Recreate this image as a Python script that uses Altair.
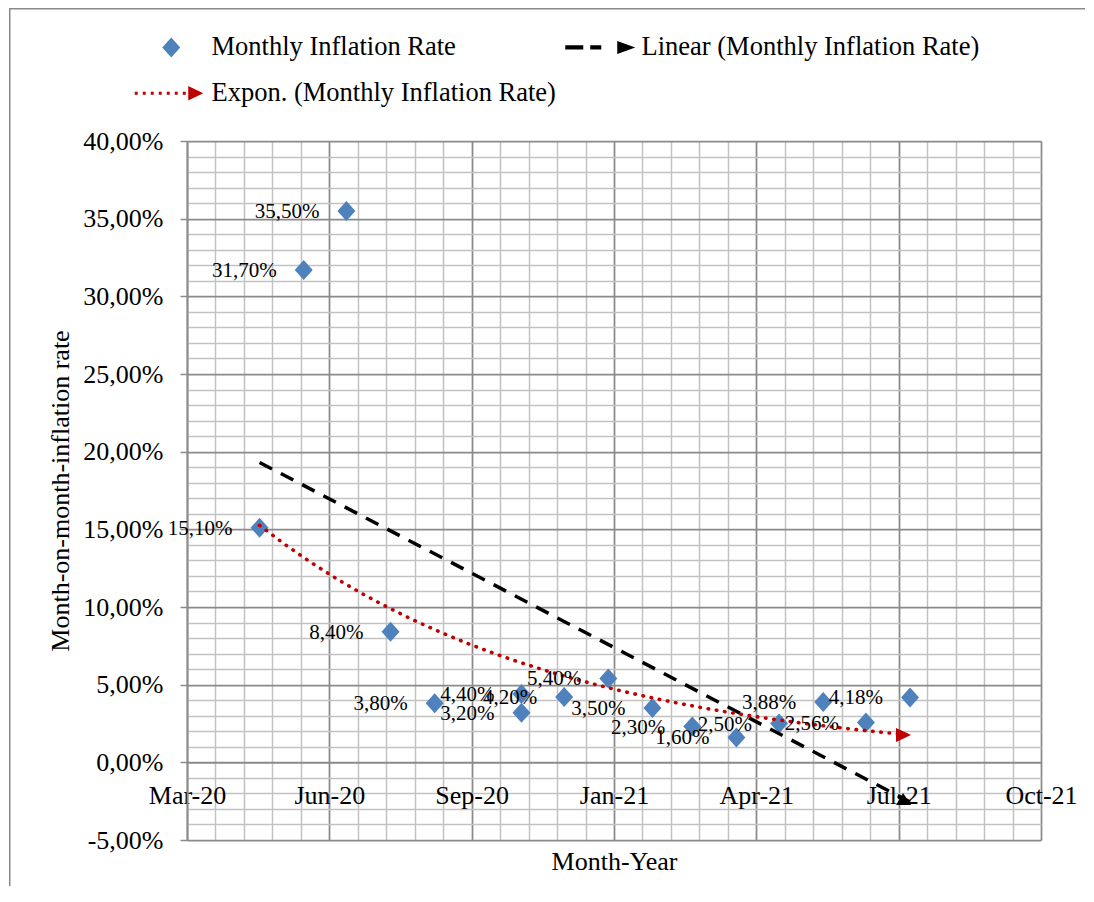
import altair as alt
import pandas as pd

# ---------------- data ----------------
months = ["Apr-20", "May-20", "Jun-20", "Jul-20", "Aug-20", "Sep-20", "Oct-20", "Nov-20",
          "Dec-20", "Jan-21", "Feb-21", "Mar-21", "Apr-21", "May-21", "Jun-21", "Jul-21"]
# x positions as plotted (the Sep-20 value sits on the Oct-20 date in the original)
dates = ["2020-04-30", "2020-05-31", "2020-06-30", "2020-07-31", "2020-08-31", "2020-10-31",
         "2020-10-31", "2020-11-30", "2020-12-31", "2021-01-31", "2021-02-28", "2021-03-31",
         "2021-04-30", "2021-05-31", "2021-06-30", "2021-07-31"]
rates = [15.10, 31.70, 35.50, 8.40, 3.80, 4.40, 3.20, 4.20, 5.40, 3.50, 2.30, 1.60,
         2.50, 3.88, 2.56, 4.18]
# legend order (legend fills column by column)
series_names = ["Monthly Inflation Rate", "Expon. (Monthly Inflation Rate)",
                "Linear (Monthly Inflation Rate)"]
x_start, x_end = "2020-03-10", "2021-10-31"
x_minor_days, x_major_days = 20, 100
y_min, y_max = -0.05, 0.40

# ---------------- style ----------------
FONT = "Liberation Serif"
BLUE, BLACK, RED = "#4f81bd", "#000000", "#c00000"
MAJOR, MINOR = "#8a8a8a", "#c2c2c2"
W, H = 854, 699
DAY = 86400000


def ms(s):
    return int(pd.Timestamp(s).value // 10**6)


x0, x1 = ms(x_start), ms(x_end)
x_vals = list(range(x0, x1 + 1, x_minor_days * DAY))
y_vals = [round(y_min + 0.01 * i, 2) for i in range(int(round((y_max - y_min) / 0.01)) + 1)]

df = pd.DataFrame({"month": months, "date": dates, "rate": rates})
df["t"] = [ms(d) for d in dates]
df["series"] = series_names[0]

x_major_test = f"abs(((datum.value - {x0}) / {DAY}) % {x_major_days}) < 0.5"
y_major_test = "abs(round(datum.value * 100) % 5) == 0"

x_axis = alt.Axis(
    values=x_vals, orient="bottom", offset=-H * (0 - y_min) / (y_max - y_min),
    labelExpr=f"({x_major_test}) ? utcFormat(datum.value, '%b-%y') : ''",
    labelFont=FONT, labelFontSize=26, labelColor="black", labelPadding=20,
    labelOverlap=False, labelFlush=False, labelBound=False,
    ticks=False, tickSize=0, domainColor=MAJOR, domainWidth=1.5,
    grid=True,
    gridColor={"condition": {"test": x_major_test, "value": MAJOR}, "value": MINOR},
    gridWidth={"condition": {"test": x_major_test, "value": 1.75}, "value": 1.5},
    title="Month-Year", titleFont=FONT, titleFontSize=26, titleFontWeight="normal",
    titleColor="black", titleY=107.5, titleBaseline="alphabetic",
)
y_axis = alt.Axis(
    values=y_vals, orient="left",
    labelExpr=(f"({y_major_test}) ? replace(replace(format(datum.value, '.2%'), '.', ','),"
               " '\u2212', '-') : ''"),
    labelFont=FONT, labelFontSize=26, labelColor="black", labelPadding=17,
    labelOverlap=False, labelFlush=False, labelBound=False,
    tickSize=7, tickColor=MAJOR, tickWidth=1.5,
    tickOpacity={"condition": {"test": y_major_test, "value": 1}, "value": 0},
    domainColor=MAJOR, domainWidth=1.75,
    grid=True,
    gridColor={"condition": {"test": y_major_test, "value": MAJOR}, "value": MINOR},
    gridWidth={"condition": {"test": y_major_test, "value": 1.75}, "value": 1.5},
    title="Month-on-month-inflation rate", titleFont=FONT, titleFontSize=26,
    titleFontWeight="normal", titleColor="black", titleAngle=270, titleX=-114,
    titleBaseline="bottom",
)

x_enc = alt.X("t:Q", scale=alt.Scale(domain=[x0, x1], nice=False, zero=False), axis=x_axis)
y_enc = alt.Y("y:Q", scale=alt.Scale(domain=[y_min, y_max], nice=False, zero=False), axis=y_axis)

# legend symbols (unit = 10 px, symbol slot centred at the diamond)
diamond = "M0,-1L0.9,0L0,1L-0.9,0Z"
lin_sym = ("M-3.6,-0.22L-1.8,-0.22L-1.8,0.22L-3.6,0.22Z "
           "M-1.1,-0.22L0.0,-0.22L0.0,0.22L-1.1,0.22Z "
           "M1.6,-0.65L3.4,0L1.6,0.65Z")
dots = " ".join(
    f"M{c - 0.15:.2f},-0.15L{c + 0.15:.2f},-0.15L{c + 0.15:.2f},0.15L{c - 0.15:.2f},0.15Z"
    for c in [-3.5 + 0.8 * i for i in range(7)])
exp_sym = dots + " M1.7,-0.72L3.2,0L1.7,0.72Z"

legend = alt.Legend(
    title=None, orient="none", legendX=-29, legendY=-107, columns=2, padding=0,
    symbolSize=400, symbolStrokeWidth=0, symbolOpacity=1,
    labelFont=FONT, labelFontSize=26.5, labelColor="black", labelOffset=27,
    labelLimit=800, rowPadding=19, columnPadding=9,
)

base = alt.Chart(df).transform_calculate(y="datum.rate / 100")

points = base.mark_point(filled=True, size=400, opacity=1, strokeWidth=0).encode(
    x=x_enc, y=y_enc,
    color=alt.Color("series:N", scale=alt.Scale(domain=series_names, range=[BLUE, RED, BLACK]),
                    legend=legend),
    shape=alt.Shape("series:N", scale=alt.Scale(domain=series_names,
                                                range=[diamond, exp_sym, lin_sym]),
                    legend=legend),
)

lin = base.transform_regression("t", "y", method="linear")
linear_line = lin.mark_line(color=BLACK, strokeWidth=3.5, strokeDash=[14, 10]).encode(
    x=x_enc, y=y_enc)
linear_end = lin.transform_joinaggregate(tmax="max(t)").transform_filter(
    "datum.t == datum.tmax").mark_point(
    shape="M-0.93,-1.2L0.13,0.4L-1.87,0.4Z", size=225, filled=True, color=BLACK,
    opacity=1, strokeWidth=0).encode(x=x_enc, y=y_enc)

ex = (base.transform_calculate(ly="log(datum.rate / 100)")
      .transform_regression("t", "ly", method="poly", order=1)
      .transform_calculate(y="exp(datum.ly)"))
exp_line = ex.mark_line(color=RED, strokeWidth=3.6, strokeDash=[0.5, 7.8],
                        strokeCap="round").encode(x=x_enc, y=y_enc)
exp_end = ex.transform_joinaggregate(tmax="max(t)").transform_filter(
    "datum.t == datum.tmax").mark_point(
    shape="M0.13,0L-1.87,-0.93L-1.87,0.93Z", size=225, filled=True, color=RED,
    opacity=1, strokeWidth=0).encode(x=x_enc, y=y_enc)

labels = base.transform_calculate(
    label="replace(format(datum.rate / 100, '.2%'), '.', ',')"
).mark_text(align="right", baseline="middle", dx=-27, dy=1, font=FONT, fontSize=21,
            color="black").encode(x=x_enc, y=y_enc, text="label:N")

frame_df = pd.DataFrame({"k": [0]})
frame_left = alt.Chart(frame_df).mark_rule(color=MAJOR, strokeWidth=1.5).encode(
    x=alt.value(-177.25), y=alt.value(-132.25), y2=alt.value(745))
frame_top = alt.Chart(frame_df).mark_rule(color=MAJOR, strokeWidth=1.5).encode(
    x=alt.value(-178), x2=alt.value(898), y=alt.value(-132.25))

chart = alt.layer(
    frame_left, frame_top, points, linear_line, exp_line, linear_end, exp_end, labels
).properties(width=W, height=H, padding=0).configure_view(stroke=None)

chart.save("out.html", embed_options={"renderer": "svg", "actions": False})
